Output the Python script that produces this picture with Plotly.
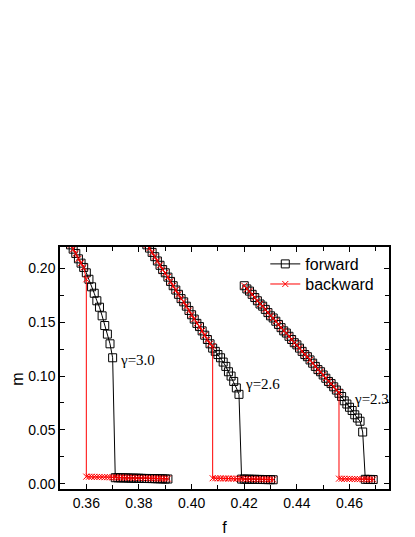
import plotly.graph_objects as go

# gamma = 3.0
f30_fwd = [0.354, 0.355, 0.356, 0.357, 0.358, 0.359, 0.360, 0.361, 0.362, 0.363,
           0.364, 0.365, 0.366, 0.367, 0.368, 0.369, 0.370,
           0.371, 0.372, 0.373, 0.374, 0.375, 0.376, 0.377, 0.378, 0.379, 0.380,
           0.381, 0.382, 0.383, 0.384, 0.385, 0.386, 0.387, 0.388, 0.389, 0.390, 0.391]
m30_fwd = [0.222, 0.218, 0.214, 0.209, 0.205, 0.201, 0.196, 0.190, 0.183, 0.177,
           0.170, 0.164, 0.156, 0.147, 0.139, 0.130, 0.117,
           0.0055, 0.0054, 0.0054, 0.0053, 0.0053, 0.0052, 0.0051, 0.0051, 0.0050, 0.0050,
           0.0049, 0.0048, 0.0048, 0.0047, 0.0047, 0.0046, 0.0045, 0.0045, 0.0044, 0.0043, 0.0043]
f30_bwd = [0.354, 0.355, 0.356, 0.357, 0.358, 0.359, 0.360,
           0.360, 0.361, 0.362, 0.363, 0.364, 0.365, 0.366, 0.367, 0.368, 0.369,
           0.370, 0.371, 0.372, 0.373, 0.374, 0.375, 0.376, 0.377, 0.378, 0.379,
           0.380, 0.381, 0.382, 0.383, 0.384, 0.385, 0.386, 0.387, 0.388, 0.389,
           0.390, 0.391]
m30_bwd = [0.222, 0.218, 0.214, 0.209, 0.205, 0.201, 0.190,
           0.0065, 0.0064, 0.0064, 0.0063, 0.0062, 0.0062, 0.0061, 0.0060, 0.0060, 0.0059,
           0.0058, 0.0058, 0.0057, 0.0057, 0.0056, 0.0055, 0.0055, 0.0054, 0.0054, 0.0053,
           0.0052, 0.0052, 0.0051, 0.0051, 0.0050, 0.0049, 0.0049, 0.0048, 0.0048, 0.0047,
           0.0046, 0.0046]

# gamma = 2.6
f26_fwd = [0.383, 0.384, 0.385, 0.386, 0.387, 0.388, 0.389, 0.390, 0.391, 0.392,
           0.393, 0.394, 0.395, 0.396, 0.397, 0.398, 0.399, 0.400, 0.401, 0.402,
           0.403, 0.404, 0.405, 0.406, 0.407, 0.408, 0.409, 0.410, 0.411, 0.412,
           0.413, 0.414, 0.415, 0.416, 0.417, 0.418,
           0.419, 0.420, 0.421, 0.422, 0.423, 0.424, 0.425, 0.426, 0.427, 0.428,
           0.429, 0.430, 0.431]
m26_fwd = [0.222, 0.219, 0.215, 0.211, 0.207, 0.203, 0.199, 0.196, 0.192, 0.188,
           0.184, 0.180, 0.176, 0.172, 0.169, 0.165, 0.161, 0.157, 0.153, 0.149,
           0.146, 0.142, 0.138, 0.134, 0.130, 0.126, 0.123, 0.120, 0.117, 0.113,
           0.109, 0.104, 0.100, 0.095, 0.089, 0.083,
           0.0042, 0.0042, 0.0041, 0.0041, 0.0040, 0.0040, 0.0039, 0.0039, 0.0038, 0.0038,
           0.0037, 0.0037, 0.0036]
f26_bwd = [0.383, 0.384, 0.385, 0.386, 0.387, 0.388, 0.389, 0.390, 0.391, 0.392,
           0.393, 0.394, 0.395, 0.396, 0.397, 0.398, 0.399, 0.400, 0.401, 0.402,
           0.403, 0.404, 0.405, 0.406, 0.407, 0.408,
           0.408, 0.409, 0.410, 0.411, 0.412, 0.413, 0.414, 0.415, 0.416, 0.417,
           0.418, 0.419, 0.420, 0.421, 0.422, 0.423, 0.424, 0.425, 0.426, 0.427,
           0.428, 0.429, 0.430, 0.431]
m26_bwd = [0.222, 0.219, 0.215, 0.211, 0.207, 0.203, 0.199, 0.196, 0.192, 0.188,
           0.184, 0.180, 0.176, 0.172, 0.169, 0.165, 0.161, 0.157, 0.153, 0.149,
           0.146, 0.142, 0.138, 0.134, 0.130, 0.128,
           0.0050, 0.0050, 0.0049, 0.0049, 0.0048, 0.0048, 0.0047, 0.0047, 0.0046, 0.0046,
           0.0045, 0.0045, 0.0044, 0.0043, 0.0043, 0.0042, 0.0042, 0.0041, 0.0041, 0.0040,
           0.0040, 0.0039, 0.0039, 0.0038]

# gamma = 2.3
f23_fwd = [0.420, 0.421, 0.422, 0.423, 0.424, 0.425, 0.426, 0.427, 0.428, 0.429,
           0.430, 0.431, 0.432, 0.433, 0.434, 0.435, 0.436, 0.437, 0.438, 0.439,
           0.440, 0.441, 0.442, 0.443, 0.444, 0.445, 0.446, 0.447, 0.448, 0.449,
           0.450, 0.451, 0.452, 0.453, 0.454, 0.455, 0.456, 0.457, 0.458, 0.459,
           0.460, 0.461, 0.462, 0.463, 0.464, 0.465,
           0.466, 0.467, 0.468, 0.469]
m23_fwd = [0.184, 0.181, 0.179, 0.176, 0.173, 0.170, 0.167, 0.165, 0.162, 0.159,
           0.156, 0.154, 0.151, 0.148, 0.145, 0.142, 0.140, 0.137, 0.134, 0.131,
           0.129, 0.126, 0.123, 0.120, 0.118, 0.115, 0.112, 0.109, 0.106, 0.104,
           0.101, 0.098, 0.095, 0.093, 0.090, 0.087, 0.084, 0.081, 0.077, 0.074,
           0.071, 0.068, 0.064, 0.061, 0.058, 0.048,
           0.0040, 0.0039, 0.0039, 0.0038]
f23_bwd = [0.420, 0.421, 0.422, 0.423, 0.424, 0.425, 0.426, 0.427, 0.428, 0.429,
           0.430, 0.431, 0.432, 0.433, 0.434, 0.435, 0.436, 0.437, 0.438, 0.439,
           0.440, 0.441, 0.442, 0.443, 0.444, 0.445, 0.446, 0.447, 0.448, 0.449,
           0.450, 0.451, 0.452, 0.453, 0.454, 0.455, 0.456,
           0.456, 0.457, 0.458, 0.459, 0.460, 0.461, 0.462, 0.463, 0.464, 0.465,
           0.466, 0.467, 0.468, 0.469]
m23_bwd = [0.184, 0.181, 0.179, 0.176, 0.173, 0.170, 0.167, 0.165, 0.162, 0.159,
           0.156, 0.154, 0.151, 0.148, 0.145, 0.142, 0.140, 0.137, 0.134, 0.131,
           0.129, 0.126, 0.123, 0.120, 0.118, 0.115, 0.112, 0.109, 0.106, 0.104,
           0.101, 0.098, 0.095, 0.093, 0.090, 0.087, 0.085,
           0.0046, 0.0045, 0.0045, 0.0044, 0.0044, 0.0043, 0.0043, 0.0042, 0.0042, 0.0041,
           0.0041, 0.0040, 0.0040, 0.0039]

gamma_labels = ["γ=3.0", "γ=2.6", "γ=2.3"]
label_f = [0.3720, 0.4196, 0.4611]
label_m = [0.1145, 0.0926, 0.0791]

fwd_sets = [(f30_fwd, m30_fwd), (f26_fwd, m26_fwd), (f23_fwd, m23_fwd)]
bwd_sets = [(f30_bwd, m30_bwd), (f26_bwd, m26_bwd), (f23_bwd, m23_bwd)]

fig = go.Figure()

for i, (fx, my) in enumerate(fwd_sets):
    fig.add_trace(go.Scatter(
        x=fx, y=my, mode='lines+markers', name='forward', showlegend=(i == 0),
        legend='legend',
        line=dict(color='black', width=1),
        marker=dict(symbol='square-open', size=8, color='black', line=dict(width=1))))

for i, (fx, my) in enumerate(bwd_sets):
    fig.add_trace(go.Scatter(
        x=fx, y=my, mode='lines+markers', name='backward', showlegend=(i == 0),
        legend='legend2',
        line=dict(color='red', width=1),
        marker=dict(symbol='x-thin', size=6, color='red', line=dict(color='red', width=1))))

for txt, fx, my in zip(gamma_labels, label_f, label_m):
    fig.add_annotation(x=fx, y=my, text=txt, showarrow=False, xanchor='left',
                       yanchor='middle', font=dict(family='Liberation Serif, Times New Roman, serif',
                                                   size=15, color='black'))

# y-axis label placed by hand, as in the original
fig.add_annotation(x=-0.128, y=0.455, xref='paper', yref='paper', text='m', showarrow=False,
                   xanchor='center', yanchor='middle',
                   textangle=-90, font=dict(size=16, color='black'))

axis_common = dict(showline=True, linecolor='black', linewidth=1.5, mirror='ticks',
                   ticks='inside', ticklen=5, tickwidth=1, tickcolor='black',
                   showgrid=False, zeroline=False, automargin=False,
                   tickfont=dict(size=14, color='black'))

fig.update_xaxes(range=[0.35, 0.475], tickvals=[0.36, 0.38, 0.40, 0.42, 0.44, 0.46],
                 ticktext=['0.36', '0.38', '0.40', '0.42', '0.44', '0.46'],
                 minor=dict(tickvals=[0.37, 0.39, 0.41, 0.43, 0.45, 0.47], ticks='inside',
                            ticklen=4, tickcolor='black'),
                 title=dict(text='f', font=dict(size=16, color='black'), standoff=12),
                 **axis_common)
fig.update_yaxes(range=[-0.005, 0.22], tickvals=[0.0, 0.05, 0.10, 0.15, 0.20],
                 ticktext=['0.00', '0.05', '0.10', '0.15', '0.20'],
                 minor=dict(tickvals=[0.025, 0.075, 0.125, 0.175], ticks='inside',
                            ticklen=4, tickcolor='black'),
                 **axis_common)

legend_style = dict(xanchor='left', yanchor='top', bgcolor='rgba(0,0,0,0)',
                    font=dict(size=16, color='black'), itemwidth=30)

# the page body has an 8px margin, so the figure is drawn 8px smaller and shifted
fig.update_layout(
    width=407, height=529,
    margin=dict(l=52, r=26, t=239, b=48),
    paper_bgcolor='white', plot_bgcolor='white',
    font=dict(family='Arial, Liberation Sans, sans-serif', color='black'),
    legend=dict(x=0.624, y=1.0, **legend_style),
    legend2=dict(x=0.624, y=0.917, **legend_style),
)

fig.write_html("out.html")
